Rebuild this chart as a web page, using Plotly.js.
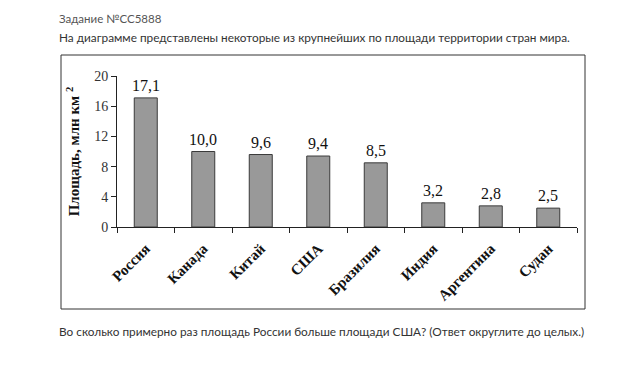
<!DOCTYPE html>
<html><head><meta charset="utf-8">
<script src="https://cdn.plot.ly/plotly-3.0.1.min.js"></script>
<style>body{margin:0;background:#fff}#c{width:640px;height:366px}</style>
</head><body><div id="c"></div>
<script>
const countries = ['Россия','Канада','Китай','США','Бразилия','Индия','Аргентина','Судан'];
const areas = [17.1, 10.0, 9.6, 9.4, 8.5, 3.2, 2.8, 2.5];
const areaLabels = ['17,1','10,0','9,6','9,4','8,5','3,2','2,8','2,5'];
const yTicks = [0, 4, 8, 12, 16, 20];
const headerText = 'Задание №CC5888';
const introText = 'На диаграмме представлены некоторые из крупнейших по площади территории стран мира.';
const questionText = 'Во сколько примерно раз площадь России больше площади США? (Ответ округлите до целых.)';
const yTitle = 'Площадь, млн км <sup>2</sup>';

const L=117, R=577, T=76, B=227;
const W=R-L, H=B-T;
const px = x => (x-L)/W;
const py = y => (B-y)/H;
const serif = '"Liberation Serif", "Times New Roman", serif';
const sans = 'Lato, "Noto Sans", sans-serif';

const trace = {
  type:'bar', x:countries, y:areas, width:0.4,
  marker:{color:'#999999', line:{color:'#3a3a3a', width:1}},
  hoverinfo:'none'
};

const annotations = countries.map((c,i)=>({
  x:c, y:areas[i], xref:'x', yref:'y', text:areaLabels[i], showarrow:false,
  yanchor:'bottom', yshift:2, font:{family:serif, size:16, color:'#111'}
}));
annotations.push(
  {xref:'paper', yref:'paper', x:px(57), y:py(18), xanchor:'left', yanchor:'middle', showarrow:false,
   text:headerText, font:{family:sans, size:11.5, color:'#555'}},
  {xref:'paper', yref:'paper', x:px(57), y:py(37), xanchor:'left', yanchor:'middle', showarrow:false,
   text:introText, font:{family:sans, size:11.8, color:'#333'}},
  {xref:'paper', yref:'paper', x:px(57), y:py(331), xanchor:'left', yanchor:'middle', showarrow:false,
   text:questionText, font:{family:sans, size:11.8, color:'#333'}}
);

const layout = {
  width:640, height:366,
  margin:{l:L, r:640-R, t:T, b:366-B, pad:0},
  paper_bgcolor:'#fff', plot_bgcolor:'#fff',
  showlegend:false,
  bargap:0.6,
  xaxis:{
    type:'category', showline:true, linecolor:'#222', linewidth:1,
    ticks:'outside', tickson:'boundaries', ticklen:5, tickcolor:'#222',
    tickangle:-45, ticklabelstandoff:6,
    tickfont:{family:serif, size:15, color:'#111', weight:'bold'},
    showgrid:false, zeroline:false, fixedrange:true
  },
  yaxis:{
    range:[0,20], tickvals:yTicks, showline:true, linecolor:'#222', linewidth:1,
    ticks:'outside', ticklen:5, tickcolor:'#222',
    tickfont:{family:serif, size:14, color:'#333'},
    showgrid:false, zeroline:false, fixedrange:true,
    title:{text:yTitle, font:{family:serif, size:15, color:'#111', weight:'bold'}, standoff:10}
  },
  shapes:[{type:'rect', xref:'paper', yref:'paper', x0:px(61), x1:px(585), y0:py(309), y1:py(55),
           line:{color:'#333', width:1}, fillcolor:'rgba(0,0,0,0)', layer:'below'}],
  annotations:annotations
};
Plotly.newPlot('c', [trace], layout, {staticPlot:true, displayModeBar:false});
</script></body></html>
